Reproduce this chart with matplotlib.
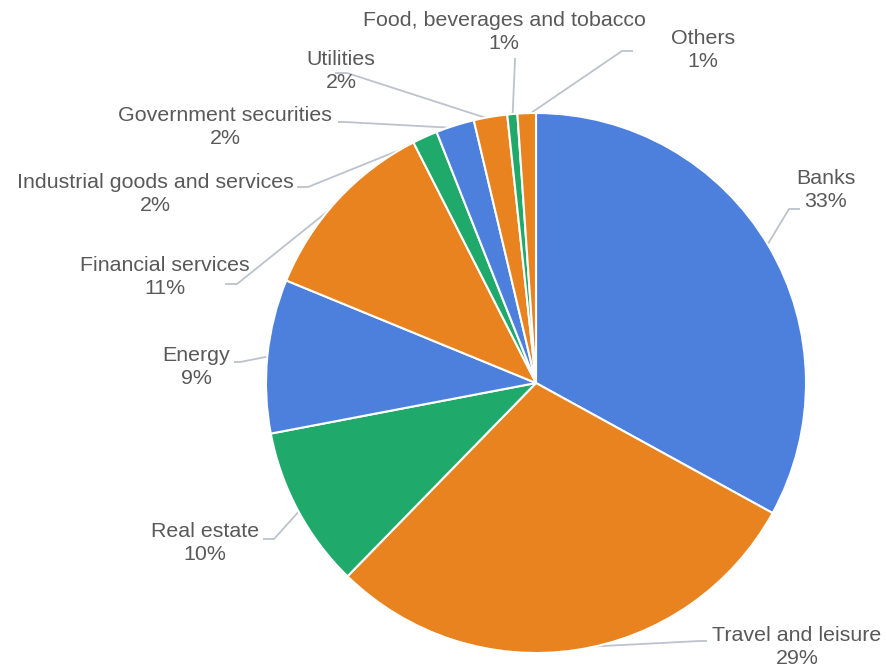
import matplotlib.pyplot as plt
import numpy as np

# Sector shares (%), clockwise from 12 o'clock
sectors = ["Banks", "Travel and leisure", "Real estate", "Energy",
           "Financial services", "Industrial goods and services",
           "Government securities", "Utilities",
           "Food, beverages and tobacco", "Others"]
shares = [33.0, 29.3, 9.7, 9.2, 11.3, 1.5, 2.3, 2.0, 0.6, 1.1]
shown = ["33%", "29%", "10%", "9%", "11%", "2%", "2%", "2%", "1%", "1%"]

blue, orange, green = "#4d7fdd", "#e8831f", "#1faa6c"
colors = [blue, orange, green, blue, orange, green, blue, orange, green, orange]

# layout in pixels: label block centre, leader elbow, leader end
label_px = [(826, 190), (797, 647), (205, 543), (196, 367), (165, 277),
            (155, 194), (225, 127), (341, 71), (504, 32), (703, 50)]
elbow_px = [(789, 209), (700, 641), (274, 539), (240, 362), (237, 284),
            (308, 187), (345, 122), (347, 73), (515, 60), (622, 51)]
end_px = [(800, 209), (707, 641), (263, 539), (234, 362), (225, 284),
          (297, 187), (338, 122), (335, 73), (515, 58), (633, 51)]

CX, CY, R = 536, 383, 270


def to_data(p):
    return ((p[0] - CX) / R, (CY - p[1]) / R)


fig = plt.figure(figsize=(8.86, 6.68), dpi=100)
ax = fig.add_axes([0, 0, 1, 1])

wedges, _ = ax.pie(shares, colors=colors, startangle=90, counterclock=False,
                   radius=1.0, wedgeprops=dict(edgecolor="white", linewidth=1.5))
ax.set_xlim(-CX / R, (886 - CX) / R)
ax.set_ylim((CY - 668) / R, CY / R)
ax.axis("off")

line_c = "#bcc3cc"
for w, lab, pct, lp, ep, np_ in zip(wedges, sectors, shown, label_px, elbow_px, end_px):
    mid = np.deg2rad((w.theta1 + w.theta2) / 2)
    start = (np.cos(mid) * 0.99, np.sin(mid) * 0.99)
    e = to_data(ep)
    n = to_data(np_)
    ax.plot([start[0], e[0], n[0]], [start[1], e[1], n[1]], color=line_c, lw=1.3,
            solid_capstyle="butt", zorder=0)
    tx, ty = to_data(lp)
    ax.text(tx, ty, lab + "\n" + pct, ha="center", va="center", fontsize=15.4,
            color="#595959", family="Liberation Sans", linespacing=1.32)

fig.savefig("out.png", dpi=100)
